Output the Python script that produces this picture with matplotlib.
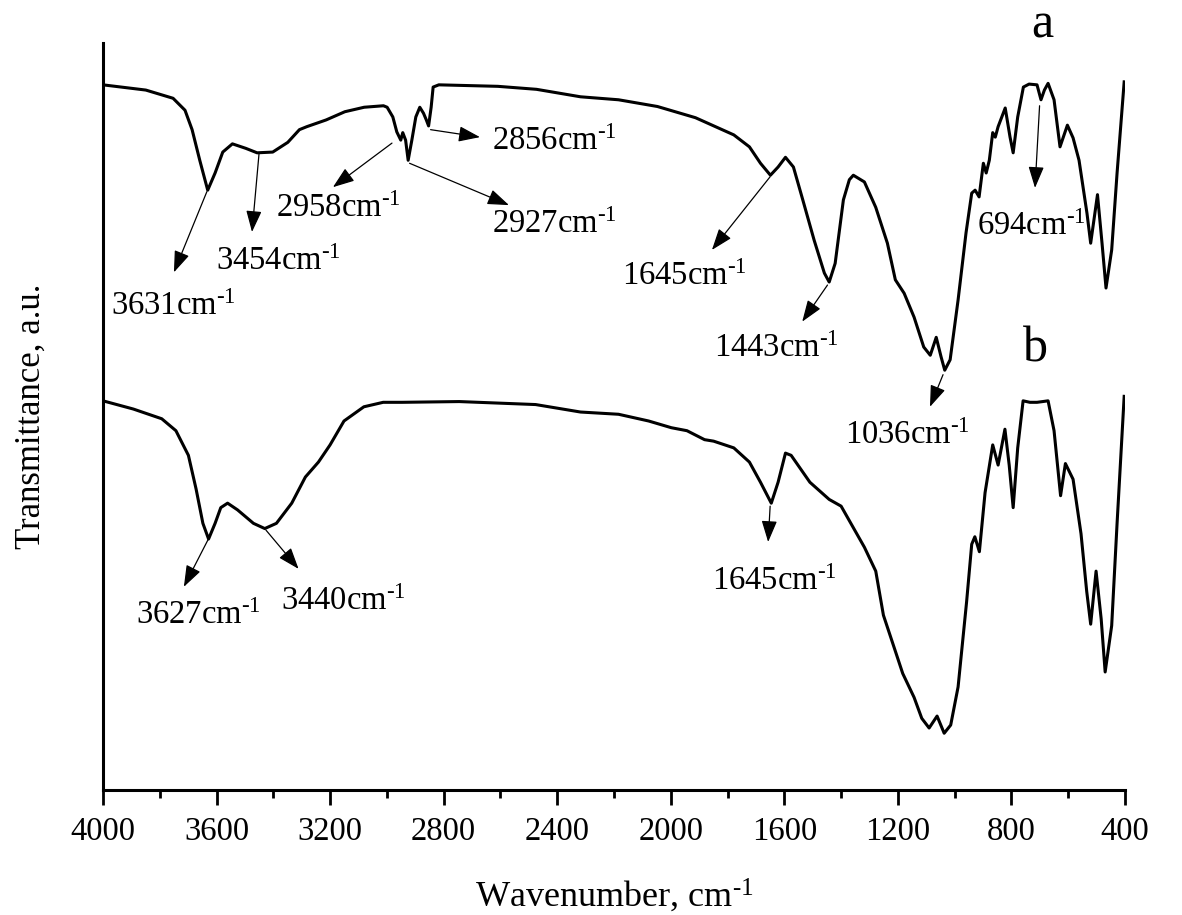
import numpy as np
import matplotlib
matplotlib.use('Agg')
import matplotlib.pyplot as plt

# Wavenumbers (cm-1) and transmittance (a.u.)
wn_a = [4000, 3849, 3753, 3711, 3686, 3659, 3631, 3605, 3578, 3544, 3497, 3457,
        3402, 3349, 3308, 3282, 3214, 3148, 3080, 3012, 2999, 2979, 2965, 2951,
        2944, 2934, 2925, 2912, 2898, 2884, 2871, 2861, 2853, 2844, 2837, 2817,
        2609, 2473, 2318, 2184, 2047, 1913, 1778, 1723, 1684, 1649, 1622, 1596,
        1568, 1535, 1495, 1459, 1442, 1421, 1392, 1371, 1357, 1318, 1278, 1237,
        1209, 1178, 1143, 1109, 1086, 1065, 1048, 1035, 1016, 988, 960, 940,
        928, 914, 899, 889, 878, 866, 857, 847, 822, 805, 794, 778, 758, 738,
        710, 696, 684, 671, 650, 629, 603, 583, 562, 534, 521, 497, 481, 467,
        447, 428, 403]
t_a = [94.4, 93.7, 92.6, 91.0, 88.4, 84.3, 80.3, 82.6, 85.4, 86.5, 85.9, 85.3,
       85.4, 86.7, 88.4, 88.8, 89.7, 90.8, 91.4, 91.6, 91.4, 90.1, 88.1, 87.0,
       88.0, 87.0, 84.3, 87.0, 90.1, 91.4, 90.6, 89.7, 88.9, 91.4, 94.1, 94.4,
       94.2, 93.8, 92.8, 92.4, 91.5, 90.0, 87.7, 86.1, 83.9, 82.3, 83.4, 84.7,
       83.4, 79.0, 73.6, 69.2, 68.0, 70.5, 79.0, 81.7, 82.3, 81.4, 78.0, 73.2,
       68.3, 66.5, 63.3, 59.3, 58.2, 60.6, 58.0, 56.2, 57.6, 65.6, 74.6, 79.9,
       80.3, 79.4, 83.9, 82.6, 84.3, 88.0, 87.4, 88.8, 91.3, 87.4, 85.3, 90.1,
       94.1, 94.5, 94.4, 92.4, 93.7, 94.6, 92.4, 86.1, 89.0, 87.3, 84.3, 77.2,
       73.2, 79.7, 73.2, 67.2, 72.3, 82.6, 94.8]

wn_b = [4000, 3893, 3793, 3743, 3699, 3672, 3648, 3628, 3605, 3585, 3561, 3526,
        3470, 3430, 3389, 3335, 3287, 3241, 3200, 3151, 3081, 3013, 2946, 2745,
        2476, 2318, 2184, 2078, 1998, 1943, 1881, 1849, 1778, 1723, 1684, 1646,
        1622, 1596, 1576, 1510, 1442, 1400, 1318, 1278, 1251, 1203, 1183, 1143,
        1116, 1090, 1062, 1037, 1014, 988, 958, 940, 929, 913, 893, 866, 847,
        823, 808, 794, 778, 759, 735, 710, 690, 671, 650, 627, 610, 583, 555,
        535, 521, 502, 484, 470, 447, 428, 403]
t_b = [52.1, 51.0, 49.7, 48.1, 44.8, 40.3, 35.7, 33.6, 35.7, 37.8, 38.4, 37.5,
       35.7, 35.0, 35.7, 38.4, 41.9, 43.9, 46.2, 49.4, 51.3, 51.9, 51.9, 52.0,
       51.6, 50.6, 50.3, 49.4, 48.5, 48.1, 46.9, 46.7, 45.8, 43.9, 41.2, 38.4,
       41.2, 45.1, 44.8, 41.2, 38.9, 38.0, 32.5, 29.3, 23.4, 17.9, 15.6, 12.4,
       9.6, 8.3, 9.9, 7.6, 8.7, 13.8, 25.2, 32.9, 33.9, 31.9, 39.8, 46.2, 43.5,
       48.3, 43.5, 37.8, 45.8, 52.1, 51.9, 51.9, 52.0, 52.1, 48.1, 39.4, 43.7,
       41.6, 34.3, 26.6, 22.2, 29.3, 22.9, 15.8, 22.0, 35.7, 52.7]

# peak labels: (text, arrow tail, arrow head, text position)
labels = [
    ('3631', (3634, 80.1), (3750, 69.3), (3972, 63.6)),
    ('3454', (3450, 85.3), (3475, 74.7), (3602, 69.6)),
    ('2958', (2982, 86.6), (3190, 80.7), (3391, 76.7)),
    ('2927', (2920, 83.9), (2570, 78.3), (2630, 74.6)),
    ('2856', (2846, 88.4), (2672, 87.4), (2630, 85.7)),
    ('1645', (1650, 82.1), (1855, 72.3), (2172, 67.6)),
    ('1443', (1448, 67.6), (1537, 62.7), (1848, 58.0)),
    ('1036', (1041, 55.6), (1087, 51.3), (1386, 46.3)),
    ('694', (701, 91.6), (717, 80.6), (921, 74.3)),
    ('3627', (3630, 33.5), (3715, 27.2), (3884, 22.2)),
    ('3440', (3426, 34.8), (3311, 29.6), (3373, 24.1)),
    ('1645', (1650, 38.0), (1657, 33.2), (1855, 26.8)),
]

plt.rcParams['font.family'] = 'Liberation Serif'
plt.rcParams['mathtext.fontset'] = 'custom'
plt.rcParams['mathtext.rm'] = 'Liberation Serif'
plt.rcParams['mathtext.it'] = 'Liberation Serif'

unit = 'cm$^{\\mathrm{\u2010}1}$'

fig = plt.figure(figsize=(11.82, 9.15), dpi=100)
ax = fig.add_axes([0.0871, 0.1366, 0.8647, 0.8164])

ax.plot(wn_a, t_a, color='black', lw=2.2, solid_joinstyle='round')
ax.plot(wn_b, t_b, color='black', lw=2.2, solid_joinstyle='round')

for txt, tail, head, pos in labels:
    ax.annotate('', xy=head, xytext=tail,
                arrowprops=dict(arrowstyle='-|>,head_length=1.1,head_width=0.4',
                                mutation_scale=12, lw=0.9, color='black',
                                shrinkA=0, shrinkB=0))
    ax.text(pos[0], pos[1], txt + unit, fontsize=23.5,
            ha='left', va='baseline')

ax.text(692, 100.8, 'a', fontsize=36, ha='center', va='baseline', clip_on=False)
ax.text(717, 57.4, 'b', fontsize=36, ha='center', va='baseline')

ax.set_xlim(4000, 400)
ax.set_ylim(0, 100)
ax.set_xticks(np.arange(4000, 399, -400))
ax.set_xticks(np.arange(3800, 400, -400), minor=True)
ax.set_yticks([])
ax.spines['top'].set_visible(False)
ax.spines['right'].set_visible(False)
ax.spines['left'].set_linewidth(2.2)
ax.spines['bottom'].set_linewidth(2.2)
ax.tick_params(axis='x', which='major', direction='out', length=10.8, width=2.0,
               labelsize=23.5, pad=8)
ax.tick_params(axis='x', which='minor', direction='out', length=5.5, width=2.0)

ax.set_xlabel('Wavenumber, ' + unit, fontsize=26, labelpad=22)
ax.set_ylabel('Transmittance, a.u.', fontsize=25, labelpad=40)

fig.savefig('out.png', dpi=100)
